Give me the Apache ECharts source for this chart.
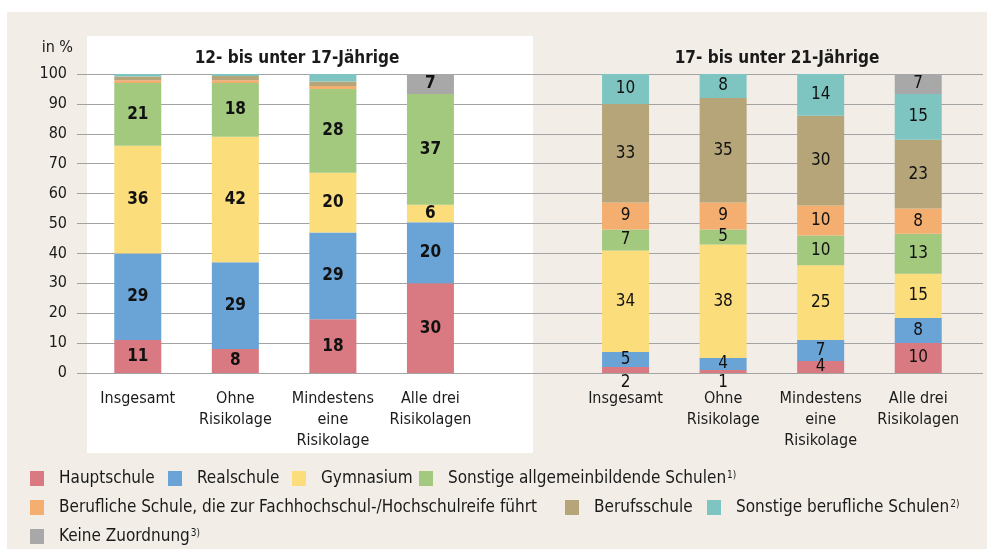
<!DOCTYPE html>
<html>
<head>
<meta charset="utf-8">
<script src="https://cdn.jsdelivr.net/npm/echarts@6/dist/echarts.min.js"></script>
<style>
  html, body { margin: 0; padding: 0; background: #ffffff; }
  #chart { width: 987px; height: 549px; }
</style>
</head>
<body>
<div id="chart"></div>
<script>
  // Kategorien (je Altersgruppe gleich)
  const categories = ['Insgesamt', 'Ohne\nRisikolage', 'Mindestens\neine\nRisikolage', 'Alle drei\nRisikolagen'];
  const groupTitles = ['12- bis unter 17-Jährige', '17- bis unter 21-Jährige'];
  const yTicks = [0, 10, 20, 30, 40, 50, 60, 70, 80, 90, 100];

  // Werte in %: erst 4 Werte 12-<17, dann 4 Werte 17-<21
  const hauptschule    = [11, 8, 18, 30, 2, 1, 4, 10];
  const realschule     = [29, 29, 29, 20.4, 5, 4, 7, 8.4];
  const gymnasium      = [36, 42, 20, 5.9, 34, 38, 25, 14.8];
  const sonstAllg      = [21, 18, 28, 37, 7, 5, 10, 13.4];
  const beruflFH       = [0.9, 0.9, 1, 0, 9, 9, 10, 8.4];
  const berufsschule   = [1.3, 1.4, 1.5, 0, 33, 35, 30, 23];
  const sonstBeruflich = [0.8, 0.7, 2.5, 0, 10, 8, 14, 15.3];
  const keineZuordnung = [0, 0, 0, 6.7, 0, 0, 0, 6.7];

  const seriesNames = ['Hauptschule', 'Realschule', 'Gymnasium', 'Sonstige allgemeinbildende Schulen',
    'Berufliche Schule, die zur Fachhochschul-/Hochschulreife führt', 'Berufsschule',
    'Sonstige berufliche Schulen', 'Keine Zuordnung'];
  const footnotes = ['', '', '', '1)', '', '', '2)', '3)'];
  const seriesValues = [hauptschule, realschule, gymnasium, sonstAllg, beruflFH, berufsschule, sonstBeruflich, keineZuordnung];
  const colors = ['#d97a82', '#6aa4d6', '#fcdd7c', '#a3c97f', '#f4ae70', '#b5a579', '#7ec5c1', '#a8a8a9'];

  const FONT = '"DejaVu Sans Condensed", "Liberation Sans Narrow", "Noto Sans", sans-serif';

  let chart = echarts.init(document.getElementById('chart'));

  // Lücke zwischen den beiden Gruppen
  let xData = categories.concat([''], categories);

  function buildData(values) {
    let items = [];
    values.forEach(function (v, i) {
      if (i === 4) items.push('-');
      let old = i >= 4;
      let label = { show: v >= 3, fontWeight: old ? 'normal' : 'bold' };
      if (old && v > 0 && v < 3) {
        label.show = true;
        label.position = 'bottom';
        label.distance = 1;
      }
      items.push({ value: v, label: label });
    });
    return items;
  }

  let series = seriesNames.map(function (name, k) {
    return {
      name: name,
      type: 'bar',
      stack: 'total',
      xAxisIndex: 1,
      yAxisIndex: 1,
      barWidth: 47,
      itemStyle: { color: colors[k] },
      label: {
        position: 'inside',
        color: '#111111',
        fontSize: 17,
        fontFamily: FONT,
        formatter: function (p) { return Math.round(p.value); }
      },
      emphasis: { disabled: true },
      data: buildData(seriesValues[k])
    };
  });

  // Legende: ein Eintrag je Legend-Komponente, Position wie im Original
  let legendLefts = [30, 168, 292, 419, 30, 565, 707, 30];
  let legendTops = [470, 470, 470, 470, 499, 499, 499, 528];

  chart.setOption({
    animation: false,
    graphic: [
      { type: 'rect', z: -10, shape: { x: 7, y: 12, width: 980, height: 537 }, style: { fill: '#f2eee7' } },
      { type: 'rect', z: -9, shape: { x: 87, y: 36, width: 446, height: 417 }, style: { fill: '#ffffff' } }
    ],
    title: [
      { text: groupTitles[0], left: 292, top: 45, textAlign: 'center',
        textStyle: { fontSize: 17, fontWeight: 'bold', color: '#1a1a1a', fontFamily: FONT } },
      { text: groupTitles[1], left: 772, top: 45, textAlign: 'center',
        textStyle: { fontSize: 17, fontWeight: 'bold', color: '#1a1a1a', fontFamily: FONT } }
    ],
    legend: seriesNames.map(function (name, k) {
      return {
        left: legendLefts[k],
        top: legendTops[k],
        padding: 0,
        itemWidth: 14,
        itemHeight: 15,
        icon: 'rect',
        selectedMode: false,
        data: [name],
        formatter: function (n) {
          return footnotes[k] ? '{t|' + n + '}{s|' + footnotes[k] + '}' : '{t|' + n + '}';
        },
        textStyle: {
          padding: [0, 0, 0, 10],
          rich: {
            t: { fontSize: 17, color: '#1a1a1a', fontFamily: FONT },
            s: { fontSize: 10, color: '#1a1a1a', fontFamily: FONT, verticalAlign: 'top', padding: [0, 0, 7, 1] }
          }
        }
      };
    }),
    grid: [
      { left: 77, right: 4, top: 74, bottom: 176 },
      { left: 89, right: 20, top: 74, bottom: 176 }
    ],
    xAxis: [
      { gridIndex: 0, type: 'value', min: 0, max: 1, show: false },
      {
        gridIndex: 1,
        type: 'category',
        data: xData,
        axisLine: { show: false },
        axisTick: { show: false },
        axisLabel: {
          interval: 0,
          margin: 15,
          fontSize: 16,
          lineHeight: 21,
          color: '#1a1a1a',
          fontFamily: FONT
        }
      }
    ],
    yAxis: [
      {
        gridIndex: 0,
        type: 'value',
        min: yTicks[0],
        max: yTicks[yTicks.length - 1],
        interval: 10,
        name: 'in %',
        nameLocation: 'end',
        nameGap: 18,
        nameTextStyle: { align: 'right', fontSize: 16, color: '#1a1a1a', fontFamily: FONT, padding: [0, 4, 0, 0] },
        axisLine: { show: false },
        axisTick: { show: false },
        axisLabel: { margin: 10, fontSize: 16, color: '#1a1a1a', fontFamily: FONT },
        splitLine: { show: true, lineStyle: { color: '#a3a3a3', width: 1 } }
      },
      {
        gridIndex: 1,
        type: 'value',
        min: 0,
        max: 100,
        show: false,
        splitLine: { show: false }
      }
    ],
    series: series
  });
</script>
</body>
</html>
